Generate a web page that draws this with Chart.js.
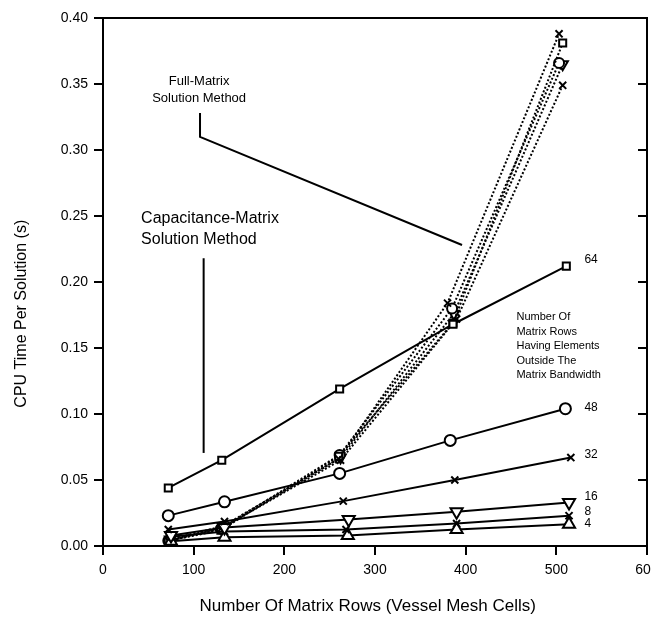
<!DOCTYPE html>
<html>
<head>
<meta charset="utf-8">
<script src="https://cdn.jsdelivr.net/npm/chart.js@4.4.1/dist/chart.umd.min.js"></script>
<style>
  html, body { margin: 0; padding: 0; background: #fff; overflow: hidden; }
</style>
</head>
<body>
<canvas id="myChart" width="651" height="619"></canvas>
<script>
// capacitance-matrix method, one curve per number of rows outside the bandwidth
const bandLabels = ['64', '48', '32', '16', '8', '4'];

const capX64 = [72, 131, 261, 386, 511];
const capY64 = [0.044, 0.065, 0.119, 0.168, 0.212];
const capX48 = [72, 134, 261, 383, 510];
const capY48 = [0.023, 0.0335, 0.055, 0.080, 0.104];
const capX32 = [72, 134, 265, 388, 516];
const capY32 = [0.0125, 0.0185, 0.034, 0.050, 0.067];
const capX16 = [75, 134, 271, 390, 514];
const capY16 = [0.008, 0.014, 0.020, 0.026, 0.033];
const capX8 = [75, 134, 268, 390, 514];
const capY8 = [0.007, 0.011, 0.0125, 0.017, 0.023];
const capX4 = [75, 134, 270, 390, 514];
const capY4 = [0.0036, 0.0066, 0.008, 0.0125, 0.0164];

// full-matrix method (dotted)
const fullXA = [72, 130, 260, 380, 503];
const fullYA = [0.004, 0.013, 0.066, 0.184, 0.388];
const fullXB = [72, 130, 260, 386, 507];
const fullYB = [0.004, 0.012, 0.068, 0.169, 0.381];
const fullXC = [72, 130, 261, 385, 503];
const fullYC = [0.004, 0.013, 0.069, 0.180, 0.366];
const fullXD = [74, 132, 262, 387, 507];
const fullYD = [0.005, 0.015, 0.067, 0.176, 0.365];
const fullXE = [74, 132, 262, 390, 507];
const fullYE = [0.004, 0.014, 0.065, 0.172, 0.349];

const yTickValues = [0, 0.05, 0.10, 0.15, 0.20, 0.25, 0.30, 0.35, 0.40];

const pts = (xs, ys) => xs.map((x, i) => ({ x: x, y: ys[i] }));

function solid(xs, ys, style, r, rot) {
  return {
    data: pts(xs, ys), showLine: true, borderColor: '#000', borderWidth: 2,
    pointStyle: style, pointRadius: r, pointRotation: rot || 0,
    pointBackgroundColor: '#fff', pointBorderColor: '#000', pointBorderWidth: 2
  };
}
function dotted(xs, ys, style, r, rot) {
  let d = solid(xs, ys, style, r, rot);
  d.borderDash = [2, 2];
  return d;
}

const font = 'Liberation Sans, Arial, sans-serif';

const notes = {
  id: 'notes',
  afterDatasetsDraw(chart) {
    const { ctx, chartArea: a, scales: { x, y } } = chart;
    const px = v => x.getPixelForValue(v), py = v => y.getPixelForValue(v);
    ctx.save();
    ctx.strokeStyle = '#000';
    ctx.fillStyle = '#000';
    ctx.lineWidth = 2;
    ctx.strokeRect(a.left, a.top, a.width, a.height);
    // inward ticks along the right edge
    yTickValues.forEach(v => {
      ctx.beginPath();
      ctx.moveTo(a.right, py(v));
      ctx.lineTo(a.right - 9, py(v));
      ctx.stroke();
    });
    // leader lines
    ctx.beginPath();
    ctx.moveTo(px(107), py(0.328));
    ctx.lineTo(px(107), py(0.310));
    ctx.lineTo(px(396), py(0.228));
    ctx.stroke();
    ctx.beginPath();
    ctx.moveTo(px(111), py(0.218));
    ctx.lineTo(px(111), py(0.0705));
    ctx.stroke();

    ctx.textBaseline = 'middle';
    ctx.textAlign = 'center';
    ctx.font = '13px ' + font;
    ctx.fillText('Full-Matrix', px(106), py(0.352));
    ctx.fillText('Solution Method', px(106), py(0.339));

    ctx.textAlign = 'left';
    ctx.font = '16px ' + font;
    ctx.fillText('Capacitance-Matrix', px(42), py(0.248));
    ctx.fillText('Solution Method', px(42), py(0.232));

    ctx.font = '11px ' + font;
    ['Number Of', 'Matrix Rows', 'Having Elements', 'Outside The', 'Matrix Bandwidth']
      .forEach((t, i) => ctx.fillText(t, px(456), py(0.1735 - i * 0.011)));

    ctx.font = '12px ' + font;
    const labelY = [0.217, 0.105, 0.069, 0.037, 0.026, 0.0167];
    bandLabels.forEach((t, i) => ctx.fillText(t, px(531), py(labelY[i])));

    // axis titles
    ctx.textAlign = 'center';
    ctx.font = '17px ' + font;
    ctx.fillText('Number Of Matrix Rows (Vessel Mesh Cells)', px(292), 606);
    ctx.save();
    ctx.translate(22, py(0.176));
    ctx.rotate(-Math.PI / 2);
    ctx.font = '16px ' + font;
    ctx.fillText('CPU Time Per Solution (s)', 0, 0);
    ctx.restore();
    ctx.restore();
  }
};

new Chart(document.getElementById('myChart'), {
  type: 'scatter',
  data: {
    datasets: [
      solid(capX64, capY64, 'rect', 5),
      solid(capX48, capY48, 'circle', 5.5),
      solid(capX32, capY32, 'crossRot', 5),
      solid(capX16, capY16, 'triangle', 7, 180),
      solid(capX8, capY8, 'crossRot', 5),
      solid(capX4, capY4, 'triangle', 7),
      dotted(fullXA, fullYA, 'crossRot', 5),
      dotted(fullXB, fullYB, 'rect', 5),
      dotted(fullXC, fullYC, 'circle', 5),
      dotted(fullXD, fullYD, 'triangle', 6, 180),
      dotted(fullXE, fullYE, 'crossRot', 5)
    ]
  },
  options: {
    responsive: false,
    animation: false,
    layout: { autoPadding: false, padding: { top: 18, right: 4, left: 0, bottom: 0 } },
    plugins: { legend: { display: false }, tooltip: { enabled: false } },
    scales: {
      x: {
        min: 0, max: 600,
        afterFit: s => { s.height = 73; s.paddingLeft = 0; s.paddingRight = 0; },
        ticks: { stepSize: 100, padding: 7, color: '#000', font: { family: font, size: 14 } },
        grid: { drawOnChartArea: false, tickLength: 9, color: '#000', lineWidth: 2 },
        border: { color: '#000', width: 2 }
      },
      y: {
        min: 0, max: 0.4,
        afterFit: s => { s.width = 103; },
        afterBuildTicks: s => { s.ticks = yTickValues.map(v => ({ value: v })); },
        ticks: {
          padding: 6, color: '#000', font: { family: font, size: 14 },
          callback: v => Number(v).toFixed(2)
        },
        grid: { drawOnChartArea: false, tickLength: 9, color: '#000', lineWidth: 2 },
        border: { color: '#000', width: 2 }
      }
    }
  },
  plugins: [notes]
});
</script>
</body>
</html>
